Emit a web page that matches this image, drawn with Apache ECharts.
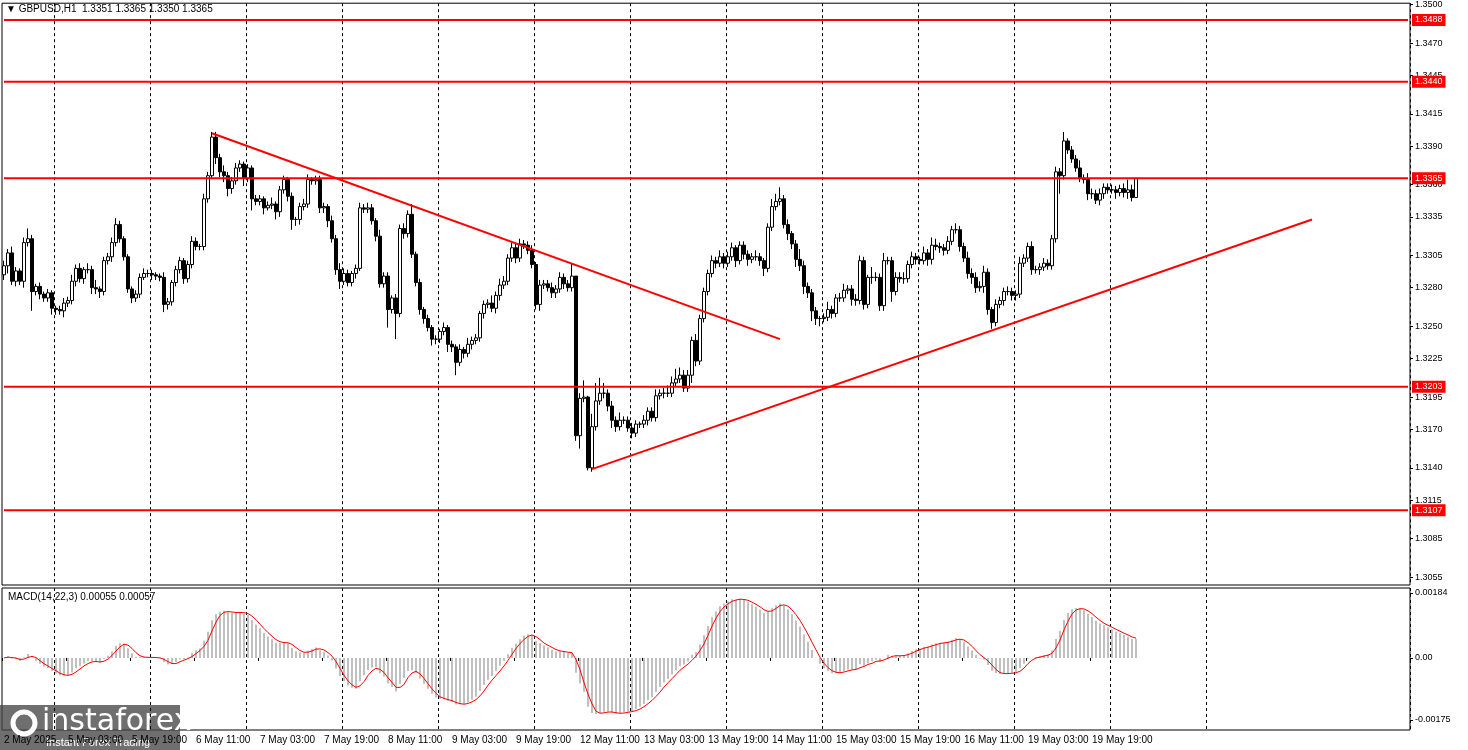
<!DOCTYPE html>
<html>
<head>
<meta charset="utf-8">
<script src="https://cdn.jsdelivr.net/npm/echarts@6/dist/echarts.min.js"></script>
<style>
html, body { margin: 0; padding: 0; background: #fff; }
#chart { width: 1468px; height: 750px; }
</style>
</head>
<body>
<div id="chart"></div>
<script>
// GBPUSD H1, closes in pips (13297 = 1.3297), open = previous close
var closePips = [
    13297,13307,13285,13293,13285,13315,13318,13277,13281,13275,13272,13276,13264,13263,13262,13268,
    13270,13285,13295,13287,13294,13294,13280,13279,13277,13301,13304,13315,13329,13318,13304,13279,
    13272,13275,13288,13291,13291,13290,13289,13288,13267,13269,13284,13294,13301,13287,13298,13316,
    13312,13312,13349,13367,13397,13381,13370,13367,13357,13363,13373,13376,13365,13373,13349,13347,
    13349,13342,13344,13345,13339,13356,13364,13351,13333,13333,13343,13345,13364,13363,13364,13342,
    13343,13332,13318,13294,13285,13291,13284,13291,13295,13342,13341,13342,13332,13320,13283,13289,
    13263,13272,13260,13326,13322,13337,13306,13284,13263,13256,13249,13240,13240,13246,13249,13236,
    13234,13222,13232,13229,13236,13239,13241,13260,13267,13268,13264,13274,13282,13285,13303,13311,
    13303,13314,13313,13309,13298,13267,13282,13283,13280,13276,13279,13288,13283,13280,13289,13165,
    13194,13195,13140,13172,13192,13198,13198,13188,13177,13172,13177,13177,13171,13167,13174,13174,
    13177,13184,13179,13196,13198,13198,13198,13206,13209,13212,13202,13212,13239,13223,13256,13277,
    13291,13301,13299,13304,13299,13304,13311,13301,13313,13306,13302,13304,13304,13301,13295,13327,
    13343,13347,13349,13329,13322,13314,13302,13297,13281,13276,13262,13256,13256,13257,13263,13260,
    13272,13272,13278,13279,13271,13270,13301,13267,13288,13288,13288,13266,13301,13301,13277,13288,
    13287,13287,13298,13304,13302,13301,13307,13302,13313,13312,13311,13309,13316,13325,13325,13312,
    13303,13291,13288,13280,13281,13292,13263,13253,13267,13270,13277,13277,13274,13275,13299,13303,
    13312,13294,13294,13296,13299,13297,13318,13370,13367,13394,13387,13380,13373,13365,13364,13353,
    13353,13348,13353,13358,13356,13356,13354,13357,13354,13356,13350,13365
];
// upper wick (pips above body)
var upWick = [
    4,3,5,3,2,4,8,3,2,3,2,3,2,2,3,4,
    3,5,3,4,2,5,3,6,2,3,3,4,5,3,2,2,
    2,3,3,4,3,3,2,2,4,3,2,3,3,2,3,4,
    3,2,4,3,4,4,3,5,3,3,4,3,2,3,2,3,
    3,2,3,5,2,3,3,2,3,2,3,4,4,2,3,3,
    3,2,4,3,5,4,3,2,3,4,3,4,3,2,5,3,
    3,2,3,3,4,3,8,2,3,2,3,2,3,2,4,2,
    3,2,4,2,5,3,3,2,3,3,6,3,5,4,3,4,
    3,4,3,3,4,2,4,3,3,4,3,4,3,3,10,0,
    4,13,1,10,14,12,8,3,4,3,6,3,3,4,3,2,
    4,3,3,5,3,4,6,5,8,6,4,4,3,5,3,3,
    3,4,3,5,3,4,4,2,3,3,3,3,5,3,2,3,
    6,6,9,3,4,2,3,8,4,3,3,3,2,3,6,3,
    3,4,5,3,3,4,4,3,2,8,4,3,6,3,3,4,
    4,5,3,4,3,2,5,3,6,5,3,3,4,3,5,3,
    3,5,4,4,4,5,3,2,4,3,3,4,3,3,5,3,
    3,4,3,3,4,3,3,4,3,7,2,3,3,6,3,5,
    4,3,4,3,3,4,3,3,4,8,4,0
];
// lower wick (pips below body)
var downWick = [
    4,6,3,4,3,5,3,15,3,4,3,3,5,4,3,5,
    3,3,4,3,4,3,5,4,5,3,3,4,3,3,3,3,
    4,3,3,2,3,4,3,3,6,4,3,3,3,4,3,3,
    3,3,3,3,2,5,4,5,6,4,3,3,6,3,9,3,
    3,5,2,3,6,4,3,4,8,5,4,3,3,3,3,4,
    4,5,3,4,6,3,3,3,4,2,3,3,3,4,3,3,
    14,3,20,3,4,3,3,3,4,4,3,5,4,3,3,6,
    4,10,3,4,3,4,3,3,4,3,3,4,4,3,3,3,
    4,3,3,3,3,4,5,3,3,4,4,3,4,3,3,4,
    10,3,2,3,3,3,4,4,6,4,3,3,3,4,3,3,
    3,4,3,3,3,4,3,3,3,3,3,3,6,4,3,3,
    3,3,4,3,4,3,3,5,3,4,5,3,3,4,6,3,
    3,3,3,3,5,4,6,4,6,4,8,5,6,3,3,4,
    3,3,3,3,5,4,3,4,3,5,3,4,4,3,8,3,
    3,4,3,3,4,3,3,5,4,3,4,4,3,3,3,4,
    3,4,5,4,3,5,4,5,3,3,4,3,4,4,3,3,
    3,4,3,4,3,3,3,3,14,3,3,3,3,3,3,5,
    4,3,4,4,3,3,5,3,4,5,3,0
];
var firstOpenPips = 13290;
var totalBars = 352;

var timeLabels = ['2 May 2025', '5 May 03:00', '5 May 19:00', '6 May 11:00', '7 May 03:00', '7 May 19:00',
    '8 May 11:00', '9 May 03:00', '9 May 19:00', '12 May 11:00', '13 May 03:00', '13 May 19:00',
    '14 May 11:00', '15 May 03:00', '15 May 19:00', '16 May 11:00', '19 May 03:00', '19 May 19:00'];
var priceTicks = [1.3055, 1.3085, 1.3115, 1.3140, 1.3170, 1.3195, 1.3225, 1.3250, 1.3280, 1.3305,
    1.3335, 1.3360, 1.3390, 1.3415, 1.3445, 1.3470, 1.3500];
var levels = [1.3488, 1.3440, 1.3365, 1.3203, 1.3107];
var macdTicks = [-0.00175, 0, 0.00184];
var downTrend = [[52, 1.3400], [194, 1.3240]];
var upTrend = [[147, 1.3139], [327, 1.3333]];

(function (window) {
    var categories = [];
    for (var i = 0; i < totalBars; i++) {
        categories.push(i % 16 === 0 && timeLabels[i / 16] ? timeLabels[i / 16] : '#' + i);
    }

    var candles = [], closes = [];
    closePips.forEach(function (c, i) {
        var o = i ? closePips[i - 1] : firstOpenPips;
        var hi = Math.max(o, c) + upWick[i];
        var lo = Math.min(o, c) - downWick[i];
        candles.push([o / 10000, c / 10000, lo / 10000, hi / 10000]);
        closes.push(c / 10000);
    });

    // MACD(14,22,3) as in MT4: main = EMA14 - EMA22, signal = SMA3 of main
    var e1 = closes[0], e2 = closes[0], macd = [], signal = [];
    closes.forEach(function (c, i) {
        e1 += (c - e1) * 2 / 15;
        e2 += (c - e2) * 2 / 23;
        macd.push(+(e1 - e2).toFixed(6));
        var s = 0, n = 0;
        for (var k = Math.max(0, i - 2); k <= i; k++) { s += macd[k]; n++; }
        signal.push(+(s / n).toFixed(6));
    });

    var font = 'Liberation Sans';
    var grid = function (idx) { return idx <= 301 && (idx - 13) % 24 === 0; };
    var hasLabel = function (idx) { return idx % 16 === 0 && !!timeLabels[idx / 16]; };

    // horizontal levels as line series with a red value box at the right edge
    var levelSeries = levels.map(function (v) {
        return {
            type: 'line', xAxisIndex: 0, yAxisIndex: 0, symbol: 'none', silent: true,
            data: [[0, v], [totalBars - 1, v]],
            lineStyle: { color: '#ff0000', width: 2 },
            endLabel: {
                show: true, formatter: v.toFixed(4), distance: 4,
                backgroundColor: '#ff0000', color: '#fff', fontSize: 9, fontFamily: font, padding: [2, 3, 1, 3]
            }
        };
    });

    var chart = echarts.init(document.getElementById('chart'));
    chart.setOption({
        animation: false,
        backgroundColor: '#fff',
        textStyle: { fontFamily: font },
        grid: [
            { left: 2, right: 58, top: 2, height: 583, show: true, borderColor: '#000', borderWidth: 1 },
            { left: 2, right: 58, top: 588, height: 142, show: true, borderColor: '#000', borderWidth: 1 }
        ],
        xAxis: [
            {
                type: 'category', gridIndex: 0, data: categories, boundaryGap: true,
                axisLine: { show: false }, axisTick: { show: false }, axisLabel: { show: false },
                splitLine: { show: true, interval: grid, lineStyle: { color: '#000', type: [3, 3], width: 1 } }
            },
            {
                type: 'category', gridIndex: 1, data: categories, boundaryGap: true,
                axisLine: { show: false },
                axisTick: { show: true, interval: hasLabel, length: 3, lineStyle: { color: '#000' } },
                axisLabel: {
                    interval: hasLabel, align: 'left', margin: 5, fontSize: 10, color: '#000', hideOverlap: false,
                    formatter: function (v) { return v.charAt(0) === '#' ? '' : v; }
                },
                splitLine: { show: true, interval: grid, lineStyle: { color: '#000', type: [3, 3], width: 1 } }
            }
        ],
        yAxis: [
            {
                type: 'value', gridIndex: 0, position: 'right', min: 1.3049, max: 1.3501, scale: true,
                splitLine: { show: false }, axisLine: { show: false },
                axisTick: { show: true, customValues: priceTicks, length: 3, lineStyle: { color: '#000' } },
                axisLabel: {
                    customValues: priceTicks, fontSize: 9, color: '#000', margin: 5,
                    formatter: function (v) { return v.toFixed(4); }
                }
            },
            {
                type: 'value', gridIndex: 1, position: 'right', min: -0.00204, max: 0.00198,
                splitLine: { show: false }, axisLine: { show: false },
                axisTick: { show: true, customValues: macdTicks, length: 3, lineStyle: { color: '#000' } },
                axisLabel: {
                    customValues: macdTicks, fontSize: 9, color: '#000', margin: 5,
                    formatter: function (v) { return v === 0 ? '0.00' : v.toFixed(5); }
                }
            }
        ],
        series: levelSeries.concat([
            {
                type: 'candlestick', xAxisIndex: 0, yAxisIndex: 0, data: candles, barWidth: 3,
                itemStyle: { color: '#fff', color0: '#000', borderColor: '#000', borderColor0: '#000', borderWidth: 1 }
            },
            {
                type: 'line', xAxisIndex: 0, yAxisIndex: 0, data: downTrend, symbol: 'none',
                lineStyle: { color: '#ff0000', width: 2 }
            },
            {
                type: 'line', xAxisIndex: 0, yAxisIndex: 0, data: upTrend, symbol: 'none',
                lineStyle: { color: '#ff0000', width: 2 }
            },
            {
                type: 'bar', xAxisIndex: 1, yAxisIndex: 1, data: macd, barWidth: 2,
                itemStyle: { color: '#c0c0c0' }
            },
            {
                type: 'line', xAxisIndex: 1, yAxisIndex: 1, data: signal, symbol: 'none',
                lineStyle: { color: '#ff0000', width: 1 }
            }
        ]),
        graphic: [
            {
                type: 'text', left: 6, top: 4,
                style: { text: '\u25BC GBPUSD,H1  1.3351 1.3365 1.3350 1.3365', fontSize: 10, fill: '#000', fontFamily: font }
            },
            {
                type: 'text', left: 8, top: 592,
                style: { text: 'MACD(14,22,3) 0.00055 0.00057', fontSize: 10, fill: '#000', fontFamily: font }
            },
            {
                type: 'group', left: 0, top: 705,
                children: [
                    { type: 'rect', shape: { x: 0, y: 0, width: 180, height: 45 }, style: { fill: 'rgba(70,70,70,0.78)' } },
                    { type: 'circle', shape: { cx: 24, cy: 18, r: 11 }, style: { fill: 'none', stroke: '#fff', lineWidth: 5 } },
                    { type: 'text', x: 42, y: 2, style: { text: 'instaforex', fontSize: 30, fill: '#fff', fontFamily: 'DejaVu Sans' } },
                    { type: 'text', x: 46, y: 32, style: { text: 'Instant Forex Trading', fontSize: 11, fill: '#fff', fontFamily: font } }
                ]
            }
        ]
    });
})(window);
</script>
</body>
</html>
